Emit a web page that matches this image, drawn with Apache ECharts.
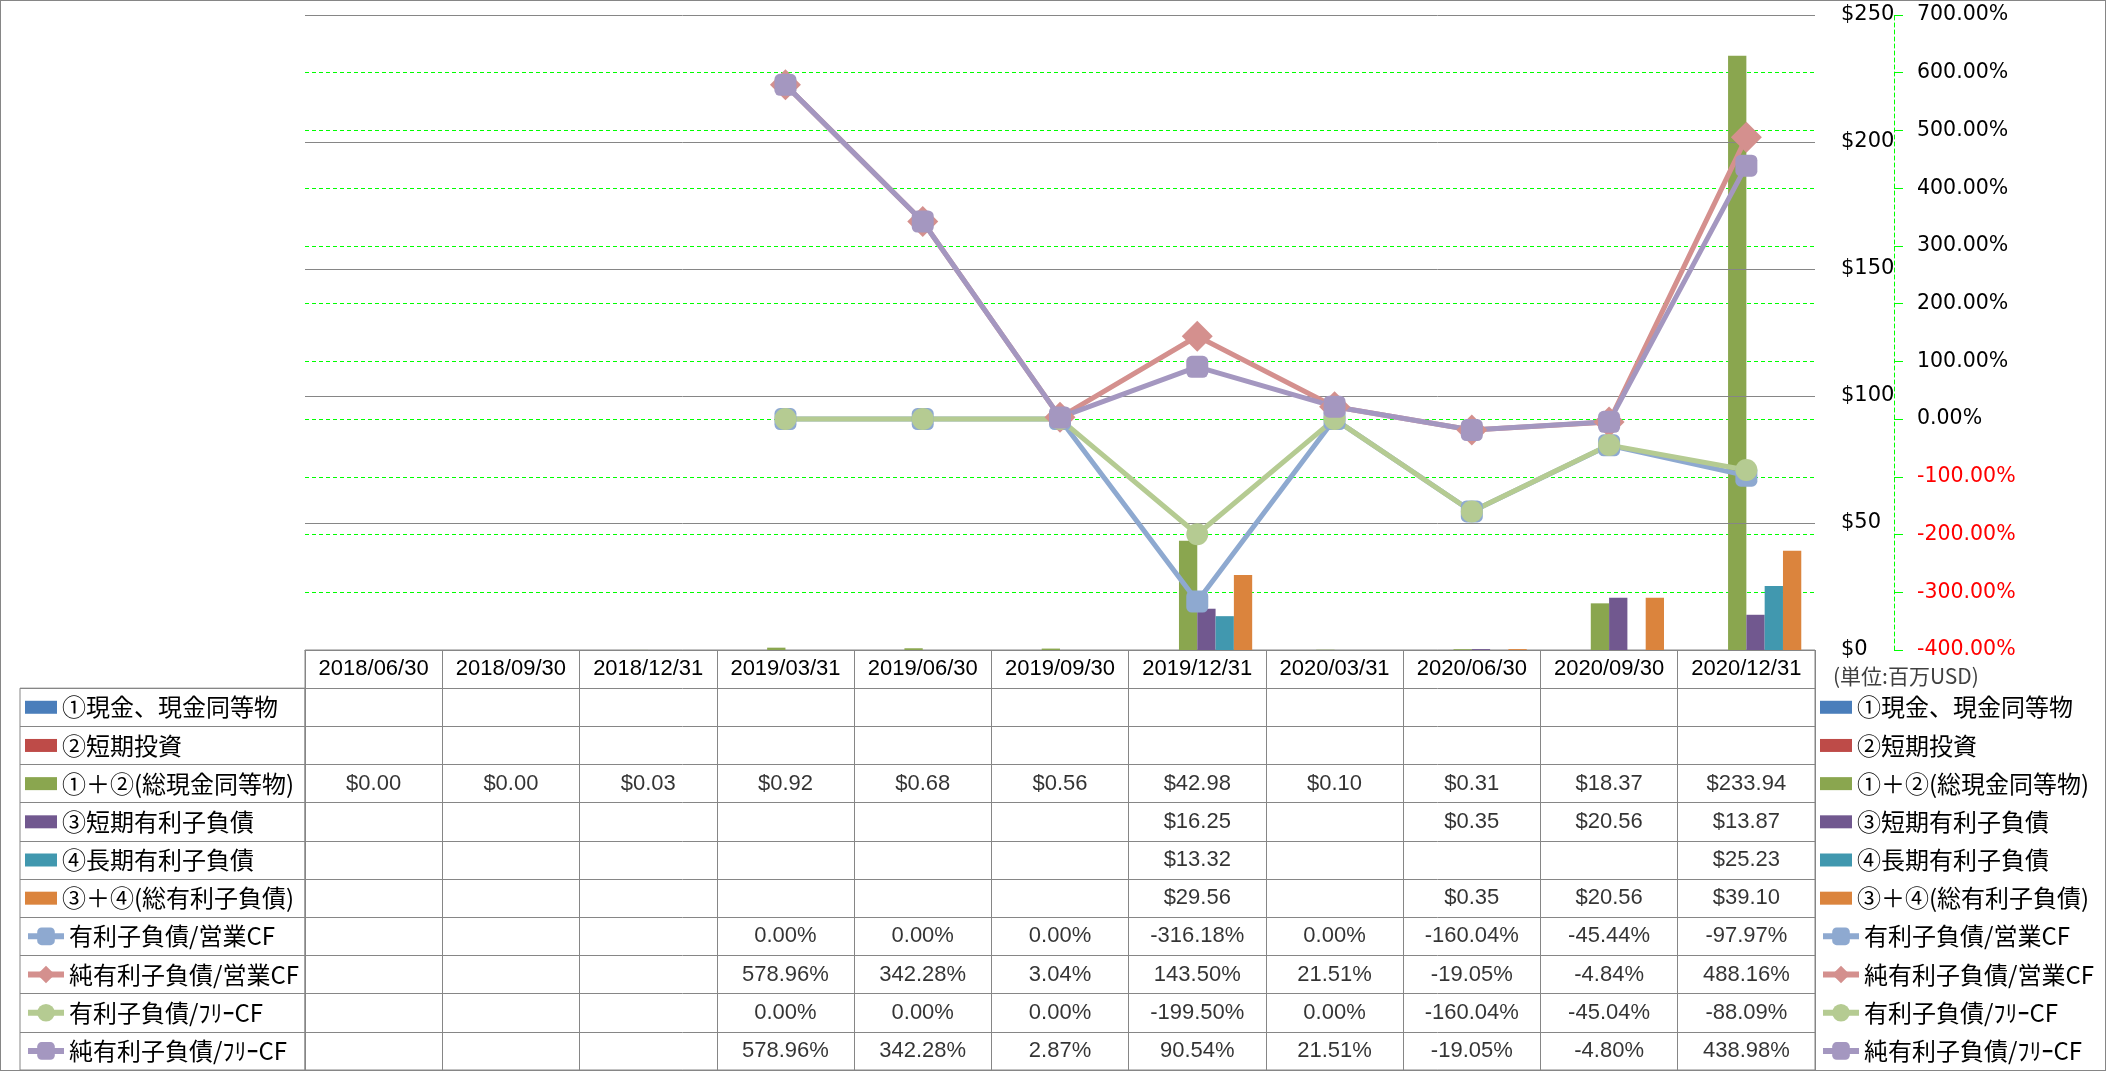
<!DOCTYPE html>
<html lang="ja">
<head>
<meta charset="UTF-8">
<title>有利子負債</title>
<script src="https://cdn.jsdelivr.net/npm/echarts@6/dist/echarts.min.js"></script>
<style>
    body {
        margin: 0;
        padding: 0;
        overflow: hidden;
        background: #fff;
    }
    #chart {
        width: 2106px;
        height: 1071px;
    }
    #frame {
        position: absolute;
        left: 0;
        top: 0;
        width: 2106px;
        height: 1071px;
        box-sizing: border-box;
        border: 1px solid #868686;
        pointer-events: none;
    }
</style>
</head>
<body>
<div id="chart"></div>
<div id="frame"></div>
<script>
    // 決算期
    const categories = ['2018/06/30', '2018/09/30', '2018/12/31', '2019/03/31', '2019/06/30', '2019/09/30',
        '2019/12/31', '2020/03/31', '2020/06/30', '2020/09/30', '2020/12/31'];

    // 棒 (百万USD)
    const barNames = ['①現金、現金同等物', '②短期投資', '①＋②(総現金同等物)', '③短期有利子負債', '④長期有利子負債', '③＋④(総有利子負債)'];
    const cash = [null, null, null, null, null, null, null, null, null, null, null];
    const shortInvest = [null, null, null, null, null, null, null, null, null, null, null];
    const totalCash = [0.00, 0.00, 0.03, 0.92, 0.68, 0.56, 42.98, 0.10, 0.31, 18.37, 233.94];
    const shortDebt = [null, null, null, null, null, null, 16.25, null, 0.35, 20.56, 13.87];
    const longDebt = [null, null, null, null, null, null, 13.32, null, null, null, 25.23];
    const totalDebt = [null, null, null, null, null, null, 29.56, null, 0.35, 20.56, 39.10];

    // 折れ線 (%)
    const lineNames = ['有利子負債/営業CF', '純有利子負債/営業CF', '有利子負債/ﾌﾘｰCF', '純有利子負債/ﾌﾘｰCF'];
    const debtOcf = [null, null, null, 0.00, 0.00, 0.00, -316.18, 0.00, -160.04, -45.44, -97.97];
    const netDebtOcf = [null, null, null, 578.96, 342.28, 3.04, 143.50, 21.51, -19.05, -4.84, 488.16];
    const debtFcf = [null, null, null, 0.00, 0.00, 0.00, -199.50, 0.00, -160.04, -45.04, -88.09];
    const netDebtFcf = [null, null, null, 578.96, 342.28, 2.87, 90.54, 21.51, -19.05, -4.80, 438.98];

    // 軸
    const usdMin = 0, usdMax = 250, usdStep = 50;
    const pctMin = -400, pctMax = 700, pctStep = 100;
    const unitLabel = '(単位:百万USD)';

    const barData = [cash, shortInvest, totalCash, shortDebt, longDebt, totalDebt];
    const lineData = [debtOcf, netDebtOcf, debtFcf, netDebtFcf];
    const barColors = ['#4A7EBB', '#BE4B48', '#8AA64F', '#71588F', '#4198AF', '#DB843D'];
    const lineColors = ['#8EA9D0', '#D4908E', '#B5CB92', '#A497C0'];
    const lineSymbols = ['roundRect', 'diamond', 'circle', 'roundRect'];
    const lineSymbolSizes = [22, 31, 22, 22];

    const GRAY = '#868686';
    const NUM_FONT = 'Liberation Sans';
    const JP_FONT = 'Noto Sans CJK JP';
    const AXIS_FONT = 'DejaVu Sans';

    // レイアウト
    const plotLeft = 305, plotRight = 1815, plotTop = 15, plotBottom = 650;
    const tableBottom = 1070;
    const rowH = (tableBottom - plotBottom) / 11;
    const W = 2106, H = 1071;
    function rowCenter(i) {
        return plotBottom + rowH * (i + 1.5);
    }

    const allNames = barNames.concat(lineNames);
    const allData = barData.concat(lineData);

    // 表の中身
    const cells = [];
    allData.forEach(function (arr, r) {
        arr.forEach(function (v, c) {
            if (v === null) return;
            const txt = r < 6 ? '$' + v.toFixed(2) : v.toFixed(2) + '%';
            cells.push([c, r + 1, txt]);
        });
    });

    const series = [];
    barData.forEach(function (arr, i) {
        series.push({
            name: barNames[i],
            type: 'bar',
            xAxisIndex: 0,
            yAxisIndex: 0,
            data: arr,
            barGap: '0%',
            barCategoryGap: '20%',
            itemStyle: {color: barColors[i]}
        });
    });
    lineData.forEach(function (arr, i) {
        series.push({
            name: lineNames[i],
            type: 'line',
            xAxisIndex: 0,
            yAxisIndex: 1,
            data: arr,
            symbol: lineSymbols[i],
            symbolSize: lineSymbolSizes[i],
            showSymbol: true,
            lineStyle: {color: lineColors[i], width: 5},
            itemStyle: {color: lineColors[i]}
        });
    });
    series.push({
        type: 'scatter',
        xAxisIndex: 1,
        yAxisIndex: 2,
        symbolSize: 1,
        itemStyle: {color: 'rgba(0,0,0,0)'},
        data: cells,
        label: {
            show: true,
            position: 'inside',
            formatter: function (p) { return p.value[2]; },
            fontFamily: NUM_FONT,
            fontSize: 22,
            color: '#000'
        },
        silent: true
    });

    // 凡例 (左の表と右側)
    const legends = [];
    allNames.forEach(function (name, i) {
        const isLine = i >= 6;
        [25, 1820].forEach(function (x) {
            const lg = {
                data: [name],
                left: x,
                top: rowCenter(i) - 13,
                padding: 0,
                orient: 'vertical',
                selectedMode: false,
                itemWidth: isLine ? 36 : 32,
                itemHeight: isLine ? 22 : 13,
                lineStyle: {width: 6},
                textStyle: {fontFamily: JP_FONT, fontSize: 24, lineHeight: 26, color: '#000'}
            };
            if (!isLine) lg.icon = 'rect';
            legends.push(lg);
        });
    });

    const option = {
        animation: false,
        backgroundColor: '#fff',
        title: {
            text: unitLabel,
            left: 1833,
            top: 666,
            padding: 0,
            textStyle: {fontFamily: JP_FONT, fontSize: 21, fontWeight: 'normal', color: '#404040'}
        },
        legend: legends,
        grid: [
            {left: plotLeft, right: W - plotRight, top: plotTop, bottom: H - plotBottom},
            {left: plotLeft, right: W - plotRight, top: plotBottom, bottom: H - tableBottom,
                show: true, borderColor: GRAY, borderWidth: 1},
            {left: 20, right: W - plotLeft, top: plotBottom + rowH, bottom: H - tableBottom,
                show: true, borderColor: GRAY, borderWidth: 1}
        ],
        xAxis: [
            {
                gridIndex: 0,
                type: 'category',
                data: categories,
                boundaryGap: true,
                axisLine: {lineStyle: {color: GRAY}},
                axisTick: {show: false},
                axisLabel: {
                    interval: 0,
                    margin: 19,
                    verticalAlign: 'middle',
                    fontFamily: NUM_FONT,
                    fontSize: 22,
                    color: '#000'
                },
                splitLine: {show: false}
            },
            {
                gridIndex: 1,
                type: 'category',
                data: categories,
                axisLine: {show: false},
                axisTick: {show: false},
                axisLabel: {show: false},
                splitLine: {show: true, interval: 0, lineStyle: {color: GRAY}}
            },
            {
                gridIndex: 2,
                type: 'value',
                show: false
            }
        ],
        yAxis: [
            {
                gridIndex: 0,
                type: 'value',
                position: 'right',
                min: usdMin,
                max: usdMax,
                interval: usdStep,
                axisLine: {show: false},
                axisTick: {show: false},
                axisLabel: {
                    margin: 26,
                    fontFamily: AXIS_FONT,
                    fontSize: 21,
                    color: '#000',
                    formatter: function (v) { return '$' + v; }
                },
                splitLine: {show: true, lineStyle: {color: GRAY, width: 1}},
                z: 3
            },
            {
                gridIndex: 0,
                type: 'value',
                position: 'right',
                offset: 79,
                min: pctMin,
                max: pctMax,
                interval: pctStep,
                axisLine: {show: true, lineStyle: {color: '#00FF00', type: [4, 3]}},
                axisTick: {show: true, length: 9, lineStyle: {color: '#00FF00'}},
                axisLabel: {
                    margin: 23,
                    fontFamily: AXIS_FONT,
                    fontSize: 20.5,
                    color: function (v) { return Number(v) < 0 ? '#FF0000' : '#000'; },
                    formatter: function (v) { return v.toFixed(2) + '%'; }
                },
                splitLine: {show: true, showMaxLine: false, showMinLine: false,
                    lineStyle: {color: '#00FF00', type: [4, 3], width: 1}}
            },
            {
                gridIndex: 1,
                type: 'category',
                inverse: true,
                data: [''].concat(allNames),
                axisLine: {show: false},
                axisTick: {show: false},
                axisLabel: {show: false},
                splitLine: {show: true, interval: 0, lineStyle: {color: GRAY}}
            },
            {
                gridIndex: 2,
                type: 'category',
                inverse: true,
                data: allNames,
                axisLine: {show: false},
                axisTick: {show: false},
                axisLabel: {show: false},
                splitLine: {show: true, interval: 0, lineStyle: {color: GRAY}}
            }
        ],
        series: series
    };

    const chart = echarts.init(document.getElementById('chart'));
    chart.setOption(option);
</script>
</body>
</html>
